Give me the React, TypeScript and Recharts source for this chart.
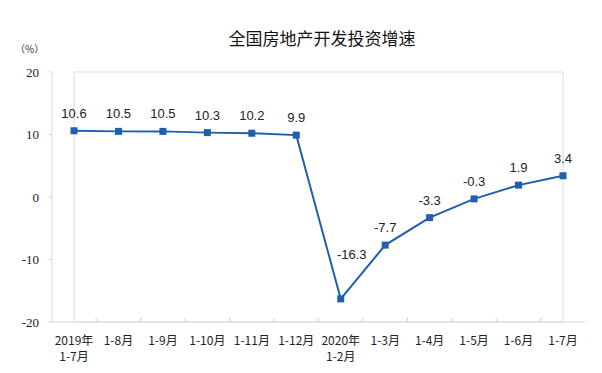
import React from 'react';
import { LineChart, Line, XAxis, YAxis, ReferenceArea, LabelList } from 'recharts';

const periods = [
  '2019年|1-7月',
  '1-8月',
  '1-9月',
  '1-10月',
  '1-11月',
  '1-12月',
  '2020年|1-2月',
  '1-3月',
  '1-4月',
  '1-5月',
  '1-6月',
  '1-7月',
];
const growth = [10.6, 10.5, 10.5, 10.3, 10.2, 9.9, -16.3, -7.7, -3.3, -0.3, 1.9, 3.4];
const yTicks = [-20, -10, 0, 10, 20];

const data = periods.map((p, i) => ({ period: p, value: growth[i] }));

const BLUE = '#1f5fae';
const minValue = Math.min(...growth);

function SquareDot({ cx, cy }: any) {
  if (cx == null || cy == null) return null;
  return <rect x={cx - 3.5} y={cy - 3.5} width={7} height={7} fill={BLUE} />;
}

function PeriodTick({ x, y, payload, index }: any) {
  const lines = String(payload.value).split('|');
  const half = 533 / periods.length / 2;
  return (
    <g>
      {index < periods.length - 1 && (
        <line x1={x + half} x2={x + half} y1={y} y2={y - 4} stroke="#cfcfcf" />
      )}
      {lines.map((l, i) => (
        <text
          key={i}
          x={x}
          y={y + 23 + i * 16}
          textAnchor="middle"
          fontSize={12}
          fontFamily="'Noto Sans CJK SC', sans-serif"
          fill="#222"
        >
          {l}
        </text>
      ))}
    </g>
  );
}

function ValueLabel({ x, y, value }: any) {
  const isMin = value === minValue;
  return (
    <text
      x={isMin ? x + 11 : x}
      y={isMin ? y - 40 : y - 13}
      textAnchor="middle"
      fontSize={13}
      fontFamily="'Liberation Sans', Arial, sans-serif"
      fill="#222"
    >
      {value}
    </text>
  );
}

export default function App() {
  return (
    <div style={{ position: 'absolute', left: 0, top: 0, width: 602, height: 373, background: '#fff' }}>
      <div
        style={{
          position: 'absolute',
          left: 0,
          width: 644,
          top: 28,
          textAlign: 'center',
          fontSize: 17,
          fontFamily: "'Noto Sans CJK SC', sans-serif",
          color: '#111',
          lineHeight: '20px',
        }}
      >
        全国房地产开发投资增速
      </div>
      <div
        style={{
          position: 'absolute',
          left: 15,
          top: 41,
          fontSize: 10,
          fontFamily: "'Noto Sans CJK SC', sans-serif",
          color: '#333',
          lineHeight: '16px',
        }}
      >
        （%）
      </div>
      <LineChart
        width={602}
        height={373}
        data={data}
        margin={{ top: 72, right: 17, bottom: 0, left: 0 }}
      >
        <ReferenceArea y1={-20} y2={20} fill="none" stroke="#d9d9d9" ifOverflow="visible" />
        <XAxis
          dataKey="period"
          height={51}
          interval={0}
          padding={{ left: 22, right: 22 }}
          axisLine={{ stroke: '#d9d9d9' }}
          tickLine={false}
          tickSize={0}
          tickMargin={0}
          tick={<PeriodTick />}
        />
        <YAxis
          width={52}
          domain={[-20, 20]}
          ticks={yTicks}
          interval={0}
          axisLine={{ stroke: '#d9d9d9' }}
          tickLine={{ stroke: '#cfcfcf' }}
          tickSize={3}
          tickMargin={10}
          tick={{ fontSize: 13, fontFamily: "'Liberation Serif', serif", fill: '#222' }}
        />
        <Line
          dataKey="value"
          stroke={BLUE}
          strokeWidth={2}
          dot={<SquareDot />}
          activeDot={false}
          isAnimationActive={false}
        >
          <LabelList dataKey="value" content={<ValueLabel />} />
        </Line>
      </LineChart>
    </div>
  );
}
